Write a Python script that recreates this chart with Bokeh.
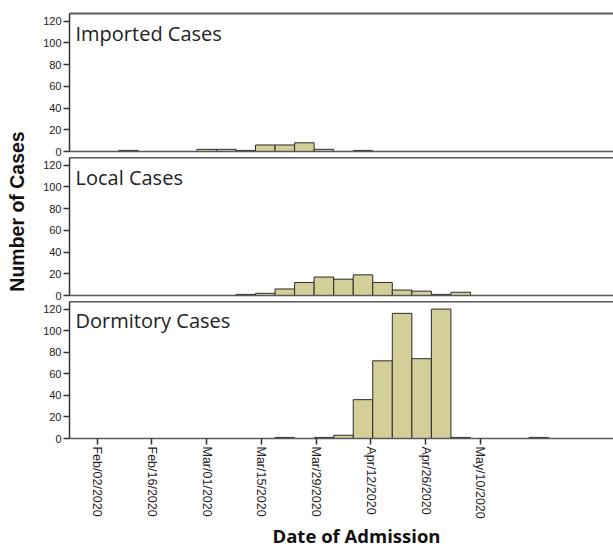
import math
import pandas as pd
from bokeh.plotting import figure
from bokeh.layouts import column, row
from bokeh.models import ColumnDataSource, Label, FixedTicker, LinearAxis, Range1d
from bokeh.embed import file_html
from bokeh.resources import INLINE

# ---------------- data ----------------
bin_centers = ["2020-02-10", "2020-02-15", "2020-02-20", "2020-02-25",
               "2020-03-01", "2020-03-06", "2020-03-11", "2020-03-16",
               "2020-03-21", "2020-03-26", "2020-03-31", "2020-04-05",
               "2020-04-10", "2020-04-15", "2020-04-20", "2020-04-25",
               "2020-04-30", "2020-05-05", "2020-05-10", "2020-05-15",
               "2020-05-20", "2020-05-25"]
bin_days = 5
imported_cases = [1, 0, 0, 0, 2, 2, 1, 6, 6, 8, 2, 0, 1, 0, 0, 0, 0, 0, 0, 0, 0, 0]
local_cases = [0, 0, 0, 0, 0, 0, 1, 2, 6, 12, 17, 15, 19, 12, 5, 4, 1, 3, 0, 0, 0, 0]
dormitory_cases = [0, 0, 0, 0, 0, 0, 0, 0, 1, 0, 1, 3, 36, 72, 116, 74, 120, 1, 0, 0, 0, 1]
panel_titles = ["Imported Cases", "Local Cases", "Dormitory Cases"]
y_ticks = [0, 20, 40, 60, 80, 100, 120]
tick_dates = ["2020-02-02", "2020-02-16", "2020-03-01", "2020-03-15",
              "2020-03-29", "2020-04-12", "2020-04-26", "2020-05-10"]
tick_labels = ["Feb/02/2020", "Feb/16/2020", "Mar/01/2020", "Mar/15/2020",
               "Mar/29/2020", "Apr/12/2020", "Apr/26/2020", "May/10/2020"]
x_title = "Date of Admission"
y_title = "Number of Cases"

# ---------------- styling ----------------
BAR_FILL = "#d4cf99"
BAR_LINE = "#2b2b2b"
FRAME_COL = "#5a5a5a"
AXIS_COL = "#333333"
DAY_MS = 86400000.0


def to_ms(d):
    return pd.Timestamp(d).timestamp() * 1000.0


x_start = to_ms("2020-02-02") - 7.1 * DAY_MS
x_end = x_start + 139.2 * DAY_MS
xr = Range1d(x_start, x_end)

FRAME_H = 138
PANEL_W = 575
LAB_W = 38
TOTAL_H = 547


def blank_axis(side, p):
    ax = LinearAxis(ticker=FixedTicker(ticks=[]),
                    axis_line_color=FRAME_COL, axis_line_width=2,
                    major_tick_line_color=None, minor_tick_line_color=None,
                    major_tick_out=0, major_tick_in=0,
                    minor_tick_out=0, minor_tick_in=0,
                    major_label_standoff=0, major_label_text_font_size="0px")
    p.add_layout(ax, side)


def make_panel(counts, title, top_border, bottom_border, last):
    p = figure(width=PANEL_W, height=top_border + FRAME_H + bottom_border,
               x_range=xr, y_range=Range1d(0, 127), x_axis_type="datetime",
               output_backend="svg", toolbar_location=None,
               min_border_left=31, min_border_right=0,
               min_border_top=top_border, min_border_bottom=bottom_border)
    p.outline_line_color = None
    p.grid.visible = False
    p.background_fill_color = "white"
    p.border_fill_color = "white"

    xs = [to_ms(c) for c, v in zip(bin_centers, counts) if v > 0]
    ys = [v for v in counts if v > 0]
    src = ColumnDataSource(dict(x=xs, top=ys))
    p.vbar(x="x", top="top", bottom=0, width=bin_days * DAY_MS, source=src,
           fill_color=BAR_FILL, line_color=BAR_LINE, line_width=1)

    # y axis
    yax = p.yaxis[0]
    yax.ticker = FixedTicker(ticks=y_ticks)
    yax.axis_line_color = AXIS_COL
    yax.axis_line_width = 1.5
    yax.major_tick_line_color = AXIS_COL
    yax.major_tick_line_width = 1.5
    yax.major_tick_out = 6
    yax.major_tick_in = 0
    yax.minor_tick_line_color = None
    yax.major_label_standoff = 2
    yax.major_label_text_font = "Liberation Sans"
    yax.major_label_text_font_size = "11px"
    yax.major_label_text_color = "#222222"

    xax = p.xaxis[0]
    xax.axis_line_color = FRAME_COL
    xax.axis_line_width = 1.5
    xax.minor_tick_line_color = None
    if last:
        tick_ms = [to_ms(d) for d in tick_dates]
        xax.ticker = FixedTicker(ticks=tick_ms)
        xax.major_label_overrides = {t: lab for t, lab in zip(tick_ms, tick_labels)}
        xax.major_tick_line_color = AXIS_COL
        xax.major_tick_line_width = 1.5
        xax.major_tick_out = 6
        xax.major_tick_in = 0
        xax.major_label_standoff = 2
        xax.major_label_orientation = -math.pi / 2
        xax.major_label_text_font = "Liberation Sans"
        xax.major_label_text_font_size = "12.5px"
        xax.major_label_text_color = "#222222"
    else:
        xax.ticker = FixedTicker(ticks=[])
        xax.major_tick_line_color = None
        xax.major_tick_out = 0
        xax.major_tick_in = 0
        xax.major_label_standoff = 0
        xax.major_label_text_font_size = "0px"

    blank_axis("above", p)

    p.add_layout(Label(x=6, y=FRAME_H - 6, x_units="screen", y_units="screen",
                       text=title, text_font="Open Sans", text_font_size="20px",
                       text_color="#222222", text_align="left", text_baseline="top"))
    return p


p1 = make_panel(imported_cases, panel_titles[0], 13, 6, False)
p2 = make_panel(local_cases, panel_titles[1], 0, 6, False)
p3 = make_panel(dormitory_cases, panel_titles[2], 0, 82, True)

xlab_h = TOTAL_H - (p1.height + p2.height + p3.height)
xlab = figure(width=PANEL_W, height=xlab_h, output_backend="svg", toolbar_location=None,
              x_range=Range1d(0, 1), y_range=Range1d(0, 1),
              x_axis_location=None, y_axis_location=None,
              min_border=0, outline_line_color=None)
xlab.grid.visible = False
xlab.add_layout(Label(x=325 - LAB_W, y=12, x_units="screen", y_units="screen",
                      text=x_title, text_font="Open Sans", text_font_style="bold",
                      text_font_size="18.5px", text_color="#111111",
                      text_align="center", text_baseline="middle"))

lab = figure(width=LAB_W, height=TOTAL_H, output_backend="svg", toolbar_location=None,
             x_range=Range1d(0, 1), y_range=Range1d(0, 1),
             x_axis_location=None, y_axis_location=None,
             min_border=0, outline_line_color=None)
lab.grid.visible = False
lab.add_layout(Label(x=16, y=TOTAL_H - 211, x_units="screen", y_units="screen",
                     text=y_title, angle=math.pi / 2,
                     text_font="Liberation Sans", text_font_style="bold",
                     text_font_size="19.5px", text_color="#111111",
                     text_align="center", text_baseline="middle"))

layout = row(lab, column(p1, p2, p3, xlab, spacing=0), spacing=0)

open("out.html", "w").write(file_html(layout, INLINE))
